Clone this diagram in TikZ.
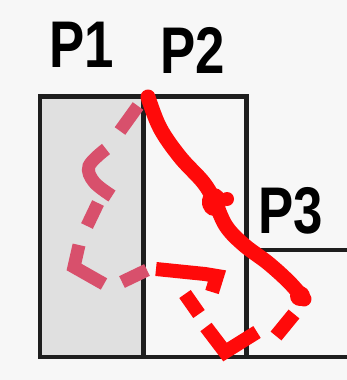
\documentclass[tikz,border=0pt]{standalone}
\usepackage{fontspec}
\setmainfont{Liberation Sans}
\definecolor{bg}{HTML}{F7F7F7}
\definecolor{pone}{HTML}{E0E0E0}
\definecolor{edge}{HTML}{1E1E1E}
\definecolor{redline}{HTML}{FF0A0A}
\definecolor{pinkline}{HTML}{D8506C}
\tikzset{
  box/.style={draw=edge, line width=4.5pt},
  lbl/.style={inner sep=0pt, anchor=base, font=\fontsize{66}{66}\selectfont\bfseries},
  solidred/.style={draw=redline, line width=15pt, line cap=round, line join=round},
  dashred/.style={draw=redline, line width=14pt, line cap=butt, line join=miter},
  dashpink/.style={draw=pinkline, line width=13pt, line cap=butt, line join=miter},
}
\begin{document}
\begin{tikzpicture}[x=1pt,y=-1pt]
\useasboundingbox (0,0) rectangle (347,380);
\fill[bg] (0,0) rectangle (347,380);
% boxes
\draw[box, fill=pone] (40,96.5) rectangle (143.5,357);
\draw[box, fill=bg] (143.5,96.5) rectangle (246.5,357);
\draw[box] (352,250) -- (246.5,250) -- (246.5,357) -- (352,357);
% labels
\node[lbl] (p1) at (82,67) {\scalebox{0.8}[1]{P1}};
\node[lbl] (p2) at (192.5,73) {\scalebox{0.8}[1]{P2}};
\node[lbl] (p3) at (290.5,233) {\scalebox{0.8}[1]{P3}};
% solid red path
\draw[solidred] plot[smooth, tension=0.6] coordinates {(148,97) (160,128) (180,157) (203,182) (214,200) (226,226) (244,245) (268,263) (289,282) (304,299)};
\fill[redline] (214,202) ellipse (12pt and 14pt);
\fill[redline] (227,199) circle (7pt);
\fill[redline] (300,296) circle (10pt);
% pink dashes
\draw[dashpink] (138,106) -- (120,131);
\draw[dashpink] plot[smooth, tension=0.6] coordinates {(106,149) (89,166) (94,182) (112,196)};
\draw[dashpink] (98,203) -- (87,226);
\draw[dashpink] (79,245) -- (74,267) -- (104,284);
\draw[dashpink] (122,282) -- (147,270);
% red dashes
\draw[dashred] (156,269) -- (205,274) -- (217,276) -- (212,292);
\draw[dashred] (185,294) -- (199,314);
\draw[dashred] (206,327) -- (225,352) -- (257,332);
\draw[dashred] (276,336) -- (294,314);
\end{tikzpicture}
\end{document}
